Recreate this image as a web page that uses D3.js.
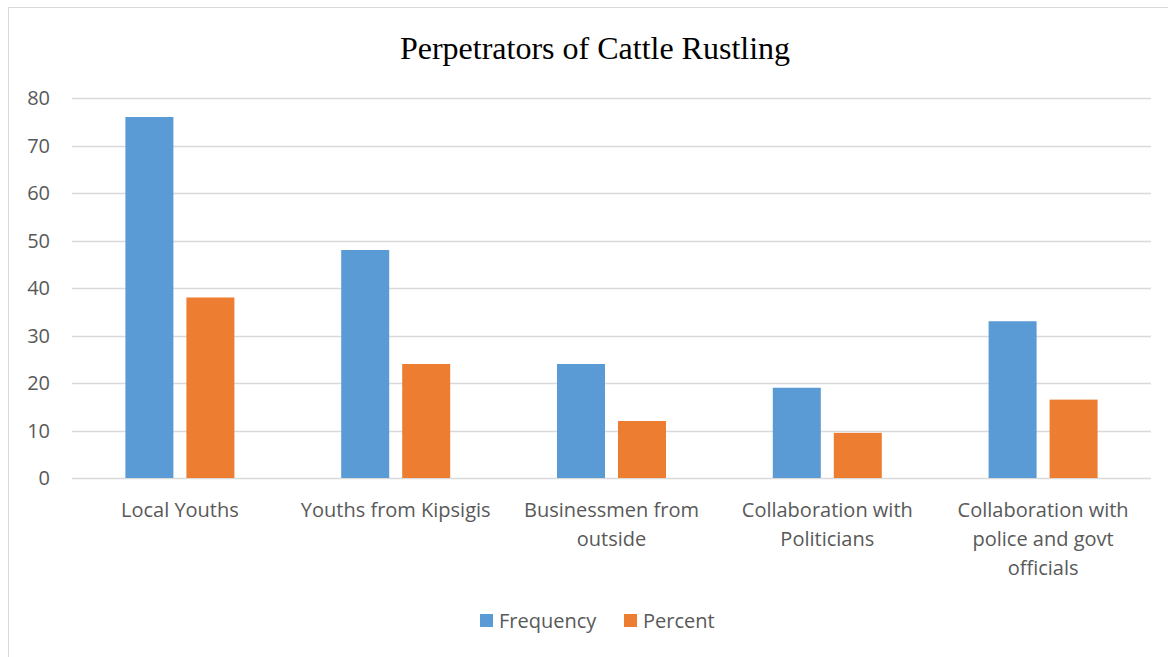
<!DOCTYPE html>
<html>
<head>
<meta charset="utf-8">
<script src="https://cdn.jsdelivr.net/npm/d3@7"></script>
<style>
  html, body { margin: 0; padding: 0; background: #fff; }
  svg { display: block; }
</style>
</head>
<body>
<svg id="chart" width="1168" height="657"></svg>
<script>
// Chart data
const categories = [
  ["Local Youths"],
  ["Youths from Kipsigis"],
  ["Businessmen from", "outside"],
  ["Collaboration with", "Politicians"],
  ["Collaboration with", "police and govt", "officials"]
];
const seriesNames = ["Frequency", "Percent"];
const frequency = [76, 48, 24, 19, 33];
const percent = [38, 24, 12, 9.5, 16.5];
const yTicks = [0, 10, 20, 30, 40, 50, 60, 70, 80];
const titleText = "Perpetrators of Cattle Rustling";

const colors = ["#5b9bd5", "#ed7d31"];
const plot = { left: 72, right: 1151, top: 98, bottom: 478 };
const labelFont = "'Open Sans', 'Noto Sans', sans-serif";
const labelSize = 20;

const svg = d3.select("#chart");

// Chart area border (left and top edges visible)
svg.append("rect")
  .attr("x", 8.5).attr("y", 7.5)
  .attr("width", 1200).attr("height", 700)
  .attr("fill", "#fff")
  .attr("stroke", "#d9d9d9").attr("stroke-width", 1);

// Title
svg.append("text")
  .attr("x", 595).attr("y", 59)
  .attr("text-anchor", "middle")
  .attr("font-family", "'Liberation Serif', 'Times New Roman', serif")
  .attr("font-size", 32)
  .attr("fill", "#000")
  .text(titleText);

const idx = d3.range(categories.length);
const x0 = d3.scaleBand().domain(idx).range([plot.left, plot.right]).padding(0);
const y = d3.scaleLinear().domain([0, 80]).range([plot.bottom, plot.top]);

// Gridlines
svg.append("g")
  .selectAll("line")
  .data(yTicks)
  .join("line")
  .attr("x1", plot.left).attr("x2", plot.right)
  .attr("y1", d => Math.round(y(d)) + 0.5)
  .attr("y2", d => Math.round(y(d)) + 0.5)
  .attr("stroke", "#d9d9d9").attr("stroke-width", 1.5);

// Y tick labels
svg.append("g")
  .selectAll("text")
  .data(yTicks)
  .join("text")
  .attr("x", 50)
  .attr("y", d => y(d))
  .attr("dy", "0.35em")
  .attr("text-anchor", "end")
  .attr("font-family", labelFont)
  .attr("font-size", labelSize)
  .attr("fill", "#595959")
  .text(d => d);

// Bars: within each category, blue then orange
const barW = 48, innerGap = 13;
const half = barW + innerGap / 2;
const x1 = d3.scaleBand().domain([0, 1])
  .range([-half, half])
  .paddingInner(innerGap / (barW + innerGap)).paddingOuter(0);

const series = [frequency, percent];
const gBars = svg.append("g");
series.forEach((vals, s) => {
  gBars.append("g")
    .selectAll("rect")
    .data(vals)
    .join("rect")
    .attr("x", (d, i) => x0(i) + x0.bandwidth() / 2 + x1(s))
    .attr("width", x1.bandwidth())
    .attr("y", d => y(d))
    .attr("height", d => y(0) - y(d))
    .attr("fill", colors[s]);
});

// Category labels
const gCat = svg.append("g");
categories.forEach((lines, i) => {
  const t = gCat.append("text")
    .attr("text-anchor", "middle")
    .attr("font-family", labelFont)
    .attr("font-size", labelSize)
    .attr("fill", "#595959");
  lines.forEach((ln, j) => {
    t.append("tspan")
      .attr("x", x0(i) + x0.bandwidth() / 2)
      .attr("y", 517 + j * 29)
      .text(ln);
  });
});

// Legend
const legend = svg.append("g");
const legendItems = [
  { name: seriesNames[0], x: 480, color: colors[0] },
  { name: seriesNames[1], x: 624, color: colors[1] }
];
legendItems.forEach(it => {
  legend.append("rect")
    .attr("x", it.x).attr("y", 614)
    .attr("width", 13).attr("height", 13)
    .attr("fill", it.color);
  legend.append("text")
    .attr("x", it.x + 19).attr("y", 621)
    .attr("dy", "0.35em")
    .attr("font-family", labelFont)
    .attr("font-size", labelSize)
    .attr("fill", "#595959")
    .text(it.name);
});
</script>
</body>
</html>
